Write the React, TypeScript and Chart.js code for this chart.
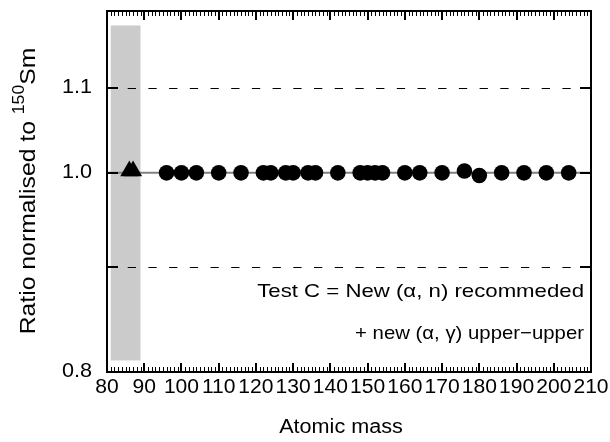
import React, { useEffect, useRef } from 'react';
import { Chart, registerables } from 'chart.js';

Chart.register(...registerables);

// ---- data ----
const circleMasses = [96, 100, 104, 110, 116, 122, 124, 128, 130, 134, 136, 142, 148, 150, 152, 154, 160, 164, 170, 176, 180, 186, 192, 198, 204];
const circleRatios = [1.0, 1.0, 1.0, 1.0, 1.0, 1.0, 1.0, 1.0, 1.0, 1.0, 1.0, 1.0, 1.0, 1.0, 1.0, 1.0, 1.0, 1.0, 1.0, 1.002, 0.997, 1.0, 1.0, 1.0, 1.0];
const triangleMasses = [86, 87];
const triangleRatios = [1.002, 1.002];
const xTickValues = [80, 90, 100, 110, 120, 130, 140, 150, 160, 170, 180, 190, 200, 210];
const yTickValues = [0.8, 1.0, 1.1];
const yTickMarks = [0.9, 1.0, 1.1];
const dashedRatios = [0.9, 1.1];
const referenceRatio = 1.0;
const bandMass = [81, 89];
const bandRatio = [0.81, 1.18];
const xRange = [80, 210];
const yRange = [0.8, 1.2];
const annotationLines = ['Test C = New (\u03b1, n) recommeded', '+ new (\u03b1, \u03b3) upper\u2212upper'];
const xTitle = 'Atomic mass';

const FONT = "'Liberation Sans', Arial, sans-serif";

function stretchedText(ctx: CanvasRenderingContext2D, text: string, x: number, y: number, size: number, align: CanvasTextAlign, sx: number) {
  ctx.save();
  ctx.translate(x, y);
  ctx.scale(sx, 1);
  ctx.font = `${size}px ${FONT}`;
  ctx.textAlign = align;
  ctx.textBaseline = 'middle';
  ctx.fillStyle = '#000';
  ctx.fillText(text, 0, 0);
  ctx.restore();
}

const decor = {
  id: 'decor',
  beforeDatasetsDraw(chart: any) {
    const { ctx, chartArea: a, scales } = chart;
    const x = scales.x, y = scales.y;
    ctx.save();
    const bx0 = x.getPixelForValue(bandMass[0]);
    const bx1 = x.getPixelForValue(bandMass[1]);
    const by0 = y.getPixelForValue(bandRatio[1]);
    const by1 = y.getPixelForValue(bandRatio[0]);
    ctx.fillStyle = '#cbcbcb';
    ctx.fillRect(bx0, by0, bx1 - bx0, by1 - by0);
    ctx.strokeStyle = '#000';
    ctx.lineWidth = 1;
    ctx.setLineDash([8.3, 12.4]);
    for (const v of dashedRatios) {
      const py = Math.round(y.getPixelForValue(v)) + 0.5;
      ctx.beginPath();
      ctx.moveTo(a.left, py);
      ctx.lineTo(a.right, py);
      ctx.stroke();
    }
    ctx.setLineDash([]);
    ctx.strokeStyle = '#808080';
    ctx.lineWidth = 2;
    const ry = y.getPixelForValue(referenceRatio);
    ctx.beginPath();
    ctx.moveTo(a.left, ry);
    ctx.lineTo(a.right, ry);
    ctx.stroke();
    // y tick marks (under the markers)
    ctx.fillStyle = '#000';
    const left = Math.round(a.left), right = Math.round(a.right);
    for (const v of yTickMarks) {
      const py = Math.round(y.getPixelForValue(v));
      ctx.fillRect(left, py - 1, 11, 2);
      ctx.fillRect(right - 11, py - 1, 11, 2);
    }
    ctx.restore();
  },
  afterDraw(chart: any) {
    const ctx: CanvasRenderingContext2D = chart.ctx;
    const a = chart.chartArea;
    const x = chart.scales.x, y = chart.scales.y;
    const left = Math.round(a.left), right = Math.round(a.right);
    const top = Math.round(a.top), bottom = Math.round(a.bottom);
    ctx.save();
    ctx.setLineDash([]);
    ctx.strokeStyle = '#000000';
    ctx.lineWidth = 2;
    ctx.strokeRect(left, top, right - left, bottom - top);
    ctx.fillStyle = '#000000';
    for (let v = xRange[0]; v <= xRange[1]; v++) {
      const major = v % 10 === 0;
      const px = Math.round(x.getPixelForValue(v));
      const len = major ? 9 : 5;
      const w = major ? 2 : 1;
      const x0 = major ? px - 1 : px;
      ctx.fillRect(x0, bottom - len, w, len);
      ctx.fillRect(x0, top, w, len);
    }

    for (const v of xTickValues) {
      stretchedText(ctx, String(v), x.getPixelForValue(v), 388, 19.5, 'center', 1.08);
    }
    for (const v of yTickValues) {
      stretchedText(ctx, v.toFixed(1), a.left - 15, y.getPixelForValue(v), 20, 'right', 1.08);
    }
    stretchedText(ctx, xTitle, 341, 427, 20, 'center', 1.08);

    stretchedText(ctx, annotationLines[0], a.right - 7, 292, 18.5, 'right', 1.2);
    stretchedText(ctx, annotationLines[1], a.right - 7, 334, 18.5, 'right', 1.1);

    ctx.save();
    ctx.translate(27, (a.top + a.bottom) / 2);
    ctx.rotate(-Math.PI / 2);
    ctx.scale(1.1, 1);
    const big = `22.5px ${FONT}`;
    const small = `16px ${FONT}`;
    const p1 = 'Ratio normalised to ';
    const sup = '150';
    const p2 = 'Sm';
    ctx.font = big;
    const w1 = ctx.measureText(p1).width;
    const w3 = ctx.measureText(p2).width;
    ctx.font = small;
    const w2 = ctx.measureText(sup).width;
    const total = w1 + w2 + w3;
    let cx = -total / 2;
    ctx.fillStyle = '#000';
    ctx.textAlign = 'left';
    ctx.textBaseline = 'alphabetic';
    ctx.font = big;
    ctx.fillText(p1, cx, 8);
    cx += w1;
    ctx.font = small;
    ctx.fillText(sup, cx, -3.5);
    cx += w2;
    ctx.font = big;
    ctx.fillText(p2, cx, 8);
    ctx.restore();

    ctx.restore();
  },
};

export default function App() {
  const ref = useRef<HTMLCanvasElement | null>(null);
  useEffect(() => {
    if (!ref.current) return;
    const chart = new Chart(ref.current, {
      type: 'scatter',
      data: {
        datasets: [
          {
            data: triangleMasses.map((m, i) => ({ x: m, y: triangleRatios[i] })),
            pointStyle: 'triangle',
            pointRadius: 10.5,
            backgroundColor: '#000',
            borderColor: '#000',
            borderWidth: 0,
          },
          {
            data: circleMasses.map((m, i) => ({ x: m, y: circleRatios[i] })),
            pointStyle: 'circle',
            pointRadius: 7.8,
            backgroundColor: '#000',
            borderColor: '#000',
            borderWidth: 0,
          },
        ],
      },
      options: {
        animation: false,
        responsive: false,
        devicePixelRatio: 1,
        layout: { padding: { top: 9.5, right: 19, left: 0, bottom: 0 } },
        plugins: { legend: { display: false }, tooltip: { enabled: false } },
        scales: {
          x: {
            type: 'linear',
            min: xRange[0],
            max: xRange[1],
            ticks: { display: false },
            grid: { display: false },
            border: { display: false },
            afterFit: (s: any) => { s.height = 70.5; },
          },
          y: {
            type: 'logarithmic',
            min: yRange[0],
            max: yRange[1],
            ticks: { display: false },
            grid: { display: false },
            border: { display: false },
            afterFit: (s: any) => { s.width = 107; },
          },
        },
      },
      plugins: [decor],
    });
    return () => chart.destroy();
  }, []);
  return (
    <div style={{ position: 'fixed', left: 0, top: 0, width: 610, height: 442, background: '#fff' }}>
      <canvas ref={ref} width={610} height={442} />
    </div>
  );
}
